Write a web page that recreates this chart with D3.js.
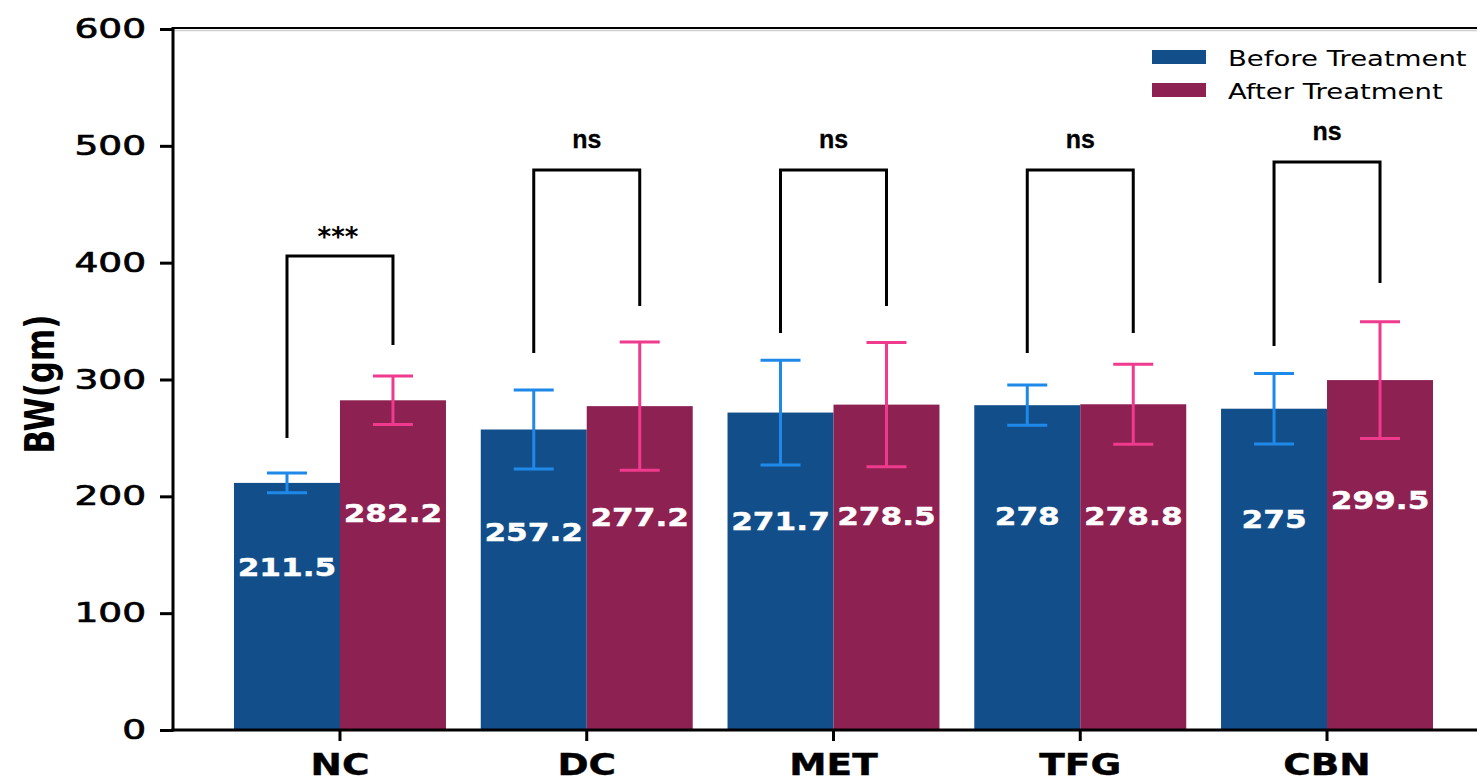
<!DOCTYPE html>
<html>
<head>
<meta charset="utf-8">
<script src="https://cdn.jsdelivr.net/npm/d3@7/dist/d3.min.js"></script>
<style>
  html, body { margin: 0; padding: 0; background: #fff; }
  svg { display: block; }
</style>
</head>
<body>
<svg id="chart" width="1477" height="783"></svg>
<script>
// Body weight (gm) per group, before and after treatment
const groups = ["NC", "DC", "MET", "TFG", "CBN"];
const seriesNames = ["Before Treatment", "After Treatment"];
const beforeValues = [211.5, 257.2, 271.7, 278, 275];
const afterValues = [282.2, 277.2, 278.5, 278.8, 299.5];
const beforeErrors = [8.5, 33.8, 44.8, 17.2, 30.2];
const afterErrors = [20.7, 54.8, 53.2, 34.2, 50];
const yTicks = [0, 100, 200, 300, 400, 500, 600];

// Significance brackets: bracket top, left leg end, right leg end (gm)
const sigLabels = ["***", "ns", "ns", "ns", "ns"];
const sigTop = [405.7, 479.3, 479.3, 479.3, 486.2];
const sigLeftEnd = [250, 322.7, 339.8, 322.7, 328.7];
const sigRightEnd = [329.5, 362.9, 362.9, 339.8, 382.6];

const colors = { bar: ["#124f8a", "#8c2152"], err: ["#1f89ea", "#ef3a8d"] };

const svg = d3.select("#chart");
const W = 1477;

const y = d3.scaleLinear().domain([0, 600]).range([730, 29]);
const x = d3.scaleBand().domain(groups).range([216.6, 1450.4])
  .paddingInner(0.141).paddingOuter(0.0705);
const xs = d3.scaleBand().domain([0, 1]).range([0, x.bandwidth()]);

// horizontally stretched text helper
function stext(g, px, py, str, opts) {
  const t = g.append("text")
    .attr("transform", `translate(${px},${py}) scale(${opts.sx || 1},1)`)
    .attr("font-family", opts.family || "DejaVu Sans")
    .attr("font-size", opts.size)
    .attr("font-weight", opts.weight || "normal")
    .attr("fill", opts.fill || "#000")
    .attr("text-anchor", opts.anchor || "middle")
    .text(str);
  if (opts.baseline) t.attr("dominant-baseline", opts.baseline);
  if (opts.stroke) t.attr("stroke", opts.fill || "#000").attr("stroke-width", opts.stroke);
  return t;
}

const rows = groups.map((g, i) => ({
  g, i,
  vals: [beforeValues[i], afterValues[i]],
  errs: [beforeErrors[i], afterErrors[i]]
}));

// bars
const barG = svg.append("g");
rows.forEach(r => {
  [0, 1].forEach(s => {
    barG.append("rect")
      .attr("x", x(r.g) + xs(s))
      .attr("y", y(r.vals[s]))
      .attr("width", xs.bandwidth())
      .attr("height", y(0) - y(r.vals[s]))
      .attr("fill", colors.bar[s]);
  });
});

// error bars
const errG = svg.append("g").attr("stroke-width", 3).attr("fill", "none");
rows.forEach(r => {
  [0, 1].forEach(s => {
    const cx = x(r.g) + xs(s) + xs.bandwidth() / 2;
    const hi = y(r.vals[s] + r.errs[s]);
    const lo = y(r.vals[s] - r.errs[s]);
    const c = colors.err[s];
    errG.append("line").attr("x1", cx).attr("x2", cx).attr("y1", hi).attr("y2", lo).attr("stroke", c);
    errG.append("line").attr("x1", cx - 20).attr("x2", cx + 20).attr("y1", hi).attr("y2", hi).attr("stroke", c);
    errG.append("line").attr("x1", cx - 20).attr("x2", cx + 20).attr("y1", lo).attr("y2", lo).attr("stroke", c);
  });
});

// value labels inside bars
const labG = svg.append("g");
rows.forEach(r => {
  [0, 1].forEach(s => {
    const cx = x(r.g) + xs(s) + xs.bandwidth() / 2;
    stext(labG, cx, y(r.vals[s] * 0.655), String(r.vals[s]),
      { size: 24, weight: "bold", sx: 1.3, fill: "#fff", baseline: "central", stroke: 0.4 });
  });
});

// significance brackets
const sigG = svg.append("g");
rows.forEach(r => {
  const i = r.i;
  const xl = x(r.g) + xs(0) + xs.bandwidth() / 2;
  const xr = x(r.g) + xs(1) + xs.bandwidth() / 2;
  sigG.append("path")
    .attr("d", `M${xl},${y(sigLeftEnd[i])}V${y(sigTop[i])}H${xr}V${y(sigRightEnd[i])}`)
    .attr("fill", "none").attr("stroke", "#000").attr("stroke-width", 3);
  if (sigLabels[i] === "***") {
    stext(sigG, (xl + xr) / 2 - 2, y(sigTop[i]) - 10, sigLabels[i], { size: 26, weight: "bold" });
  } else {
    stext(sigG, (xl + xr) / 2, y(sigTop[i]) - 22, sigLabels[i],
      { size: 25, weight: "bold", family: "Liberation Sans", stroke: 0.3 });
  }
});

// axes
const axG = svg.append("g");
axG.append("line").attr("x1", 173).attr("x2", W).attr("y1", y(600) - 1).attr("y2", y(600) - 1)
  .attr("stroke", "#000").attr("stroke-width", 2);
axG.append("line").attr("x1", 173).attr("x2", W).attr("y1", y(600) + 1.5).attr("y2", y(600) + 1.5)
  .attr("stroke", "#d0d0d0").attr("stroke-width", 1.5);

const yAxis = svg.append("g").attr("transform", "translate(173,0)")
  .call(d3.axisLeft(y).tickValues(yTicks).tickSize(13).tickFormat(""));
const xAxis = svg.append("g").attr("transform", `translate(0,${y(0)})`)
  .call(d3.axisBottom(x).tickSize(11).tickFormat(""));
[yAxis, xAxis].forEach(a => {
  a.select(".domain").remove();
  a.selectAll(".tick line").attr("stroke", "#000").attr("stroke-width", 3);
});
axG.append("line").attr("x1", 173).attr("x2", 173).attr("y1", y(600) - 2).attr("y2", y(0) + 1.5)
  .attr("stroke", "#000").attr("stroke-width", 3);
axG.append("line").attr("x1", 171.5).attr("x2", W).attr("y1", y(0)).attr("y2", y(0))
  .attr("stroke", "#000").attr("stroke-width", 3);

// y tick labels
yTicks.forEach(t => {
  stext(axG, 146, y(t), String(t), { size: 27, sx: 1.39, anchor: "end", baseline: "central", stroke: 0.7 });
});

// x category labels
groups.forEach(g => {
  stext(axG, x(g) + x.bandwidth() / 2, 775, g, { size: 30, weight: "bold", sx: 1.25, stroke: 0.4 });
});

// y axis title
axG.append("text")
  .attr("transform", "translate(40,384) scale(1.3,1) rotate(-90)")
  .attr("font-family", "DejaVu Sans").attr("font-weight", "bold").attr("font-size", 31)
  .attr("text-anchor", "middle").attr("dominant-baseline", "central").text("BW(gm)");

// legend
const legG = svg.append("g");
seriesNames.forEach((n, s) => {
  const ly = 50 + s * 33;
  legG.append("rect").attr("x", 1152).attr("y", ly).attr("width", 54).attr("height", 14)
    .attr("fill", colors.bar[s]);
  stext(legG, 1228, ly + 16, n, { size: 21, sx: 1.31, anchor: "start" });
});
</script>
</body>
</html>
